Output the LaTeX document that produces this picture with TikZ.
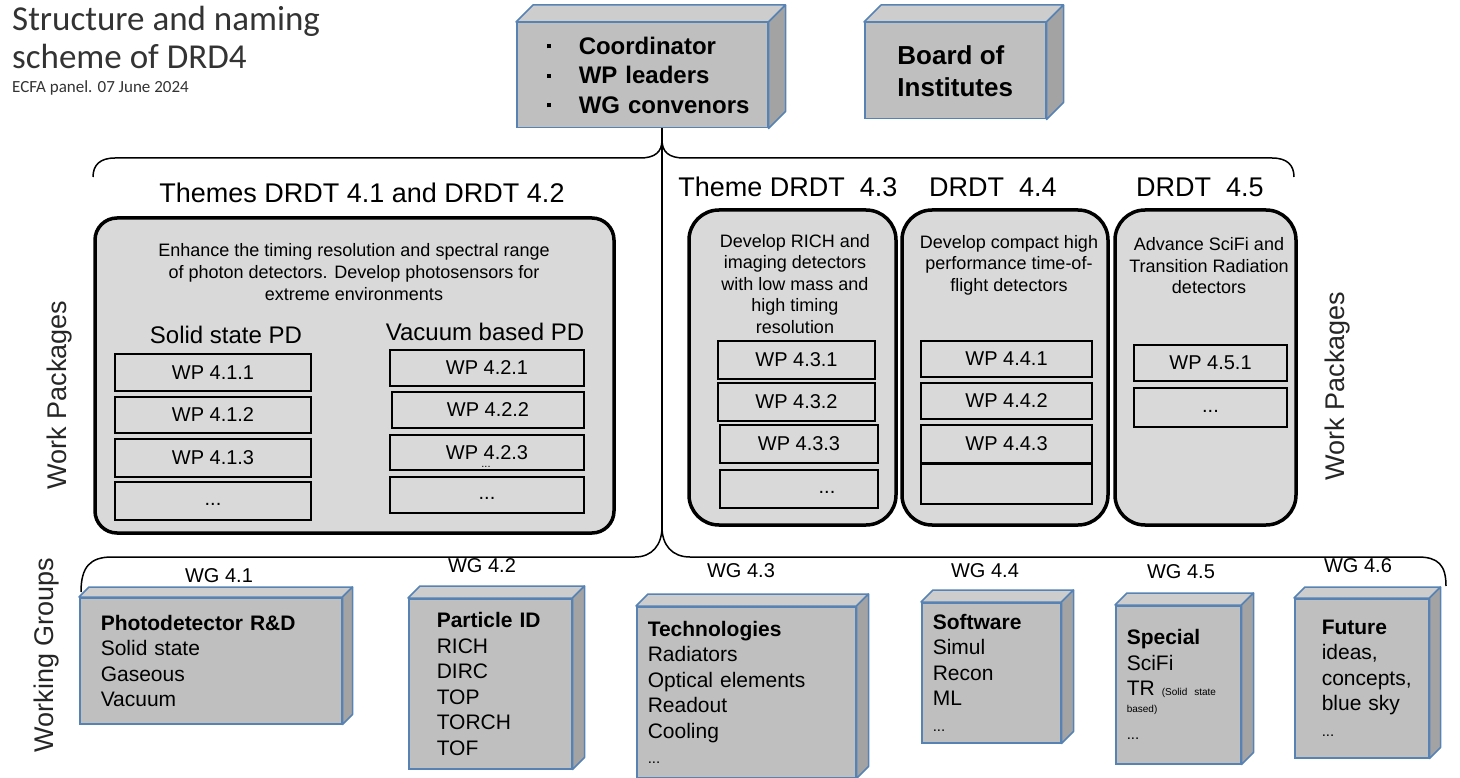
\documentclass[tikz,border=0pt]{standalone}
\usepackage{fontspec}
\setmainfont{Liberation Sans}
\newfontfamily\calfont{Carlito}
\usepackage{tikz}
\newcommand{\fsz}[2]{\fontsize{#1}{#2}\selectfont}
\newcommand{\sqbullet}{\rule[6pt]{4pt}{4pt}}
\definecolor{cubegray}{HTML}{BFBFBF}
\definecolor{cubetopc}{HTML}{CDCDCD}
\definecolor{cubesidec}{HTML}{A3A3A3}
\definecolor{cubeedge}{HTML}{5682B4}
\definecolor{themegray}{HTML}{D9D9D9}
\definecolor{titlegray}{HTML}{333333}
\tikzset{
  cubefront/.style={draw=cubeedge, fill=cubegray, line width=1.5pt, anchor=north west, align=left},
  cubetop/.style={draw=cubeedge, fill=cubetopc, line width=1.5pt, line join=round},
  cubeside/.style={draw=cubeedge, fill=cubesidec, line width=1.5pt, line join=round},
  themebox/.style={draw, fill=themegray, line width=3.5pt},
  wpbox/.style={draw, fill=themegray, line width=2pt, anchor=north west, inner sep=0pt, font=\fsz{20}{24}},
  brace/.style={line width=1.5pt},
  trunk/.style={line width=2.5pt},
  heading/.style={font=\fsz{27}{32}, anchor=base},
  subheading/.style={font=\fsz{24}{28}, anchor=base},
  sidelabel/.style={font=\fsz{27}{32}, rotate=90, text=black!85},
  wglabel/.style={font=\fsz{20}{24}, anchor=base},
  wgtext/.style={font=\fsz{21}{25.5}},
  themetext/.style={font=\fsz{18}{21.5}, align=center},
}
% top and side faces of a 3D box drawn on a node
\newcommand{\cubesides}[2]{%
  \filldraw[cubetop] (#1.north west) -- ++(#2,-#2) -- ([shift={(#2,-#2)}]#1.north east) -- (#1.north east) -- cycle;
  \filldraw[cubeside] (#1.north east) -- ++(#2,-#2) -- ([shift={(#2,-#2)}]#1.south east) -- (#1.south east) -- cycle;
}

\begin{document}
\begin{tikzpicture}[x=1pt,y=-1pt]
  \useasboundingbox (0,0) rectangle (1460,778);

  % title
  \node[anchor=north west, inner sep=0pt, align=left, font=\calfont\fsz{35}{38}, text=titlegray] (title) at (12,6) {Structure and naming\\scheme of DRD4};
  \node[anchor=base west, inner sep=0pt, font=\calfont\fsz{17}{20}, text=titlegray] (panel) at (12,93) {ECFA panel. 07 June 2024};

  % management
  \node[cubefront, text width=191pt, inner xsep=30pt, minimum height=105pt, font=\bfseries\fsz{24}{29.5}] (coord) at (516,22)
    {\mbox{\sqbullet\hspace{28pt}Coordinator}\\\mbox{\sqbullet\hspace{28pt}WP leaders}\\\mbox{\sqbullet\hspace{28pt}WG convenors}};
  \cubesides{coord}{17}
  \node[cubefront, minimum width=181pt, minimum height=96pt, font=\bfseries\fsz{26}{32}] (boi) at (864,22) {Board of\\Institutes};
  \cubesides{boi}{17}

  % braces
  \coordinate (toptip) at (662,140);
  \coordinate (topl) at (93,177);
  \coordinate (topr) at (1294,177);
  \coordinate (bottip) at (662,527);
  \coordinate (botl) at (81,592);
  \coordinate (botr) at (1446,586);
  \draw[brace] (topl) .. controls (93,165) and (100,158) .. (115,158) -- (640,158)
    .. controls (655,158) and (662,152) .. (toptip)
    .. controls (662,152) and (669,158) .. (684,158) -- (1272,158)
    .. controls (1287,158) and (1294,165) .. (topr);
  \draw[brace] (botl) .. controls (81,567) and (90,557) .. (112,557) -- (635,557)
    .. controls (652,557) and (662,545) .. (bottip)
    .. controls (662,545) and (672,557) .. (690,557) -- (1418,557)
    .. controls (1438,557) and (1446,565) .. (botr);
  \draw[trunk] (coord.south -| toptip) -- (bottip);

  % themes
  \node[heading] (th12) at (362,203) {Themes DRDT 4.1 and DRDT 4.2};
  \node[heading] (th3) at (788,197) {Theme DRDT\ \ 4.3};
  \node[heading] (th4) at (993,197) {DRDT\ \ 4.4};
  \node[heading] (th5) at (1200,197) {DRDT\ \ 4.5};

  \draw[themebox, rounded corners=22pt] (95,218) rectangle (614,533);
  \draw[themebox, rounded corners=30pt] (689,210) rectangle (896,525);
  \draw[themebox, rounded corners=30pt] (902,210) rectangle (1108,525);
  \draw[themebox, rounded corners=30pt] (1115,210) rectangle (1296,525);

  \node[themetext, font=\fsz{18}{22}] (desc12) at (354,272) {Enhance the timing resolution and spectral range\\of photon detectors. Develop photosensors for\\extreme environments};
  \node[themetext] (desc3) at (795,284) {Develop RICH and\\imaging detectors\\with low mass and\\high timing\\resolution};
  \node[themetext] (desc4) at (1009,265) {Develop compact high\\performance time-of-\\flight detectors};
  \node[themetext] (desc5) at (1209,266) {Advance SciFi and\\Transition Radiation\\detectors};

  \node[subheading] (solid) at (226,343) {Solid state PD};
  \node[subheading] (vacuum) at (485,340) {Vacuum based PD};

  % work packages
  \node[wpbox, minimum width=196pt, minimum height=37pt] (wp411) at (114,353) {WP 4.1.1};
  \node[wpbox, minimum width=196pt, minimum height=36pt] (wp412) at (114,396) {WP 4.1.2};
  \node[wpbox, minimum width=196pt, minimum height=38pt] (wp413) at (114,438) {WP 4.1.3};
  \node[wpbox, minimum width=196pt, minimum height=38pt] (wp41x) at (114,481) {\strut...};
  \node[wpbox, minimum width=194pt, minimum height=36pt] (wp421) at (389,349) {WP 4.2.1};
  \node[wpbox, minimum width=192pt, minimum height=36pt] (wp422) at (391,391) {WP 4.2.2};
  \node[wpbox, minimum width=194pt, minimum height=35pt] (wp423) at (389,434) {WP 4.2.3};
  \node[wpbox, minimum width=194pt, minimum height=36pt] (wp42x) at (389,476) {\strut...};
  \node[font=\fsz{11}{13}, inner sep=0pt] (stray) at (486,467) {...};

  \node[wpbox, minimum width=157pt, minimum height=38pt] (wp431) at (717,340) {WP 4.3.1};
  \node[wpbox, minimum width=157pt, minimum height=38pt] (wp432) at (717,382) {WP 4.3.2};
  \node[wpbox, minimum width=158pt, minimum height=38pt] (wp433) at (719,424) {WP 4.3.3};
  \node[wpbox, minimum width=158pt, minimum height=38pt] (wp43x) at (719,469) {\hspace{56pt}\strut...};
  \node[wpbox, minimum width=171pt, minimum height=36pt] (wp441) at (920,340) {WP 4.4.1};
  \node[wpbox, minimum width=171pt, minimum height=36pt] (wp442) at (920,382) {WP 4.4.2};
  \node[wpbox, minimum width=171pt, minimum height=38pt] (wp443) at (920,424) {WP 4.4.3};
  \node[wpbox, minimum width=171pt, minimum height=40pt] (wp44x) at (920,463) {};
  \node[wpbox, minimum width=153pt, minimum height=36pt] (wp451) at (1133,344) {WP 4.5.1};
  \node[wpbox, minimum width=153pt, minimum height=39pt] (wp45x) at (1133,387) {\strut...};

  \node[sidelabel] (wpl) at (60,395) {Work Packages};
  \node[sidelabel] (wpr) at (1338,386) {Work Packages};
  \node[sidelabel] (wgs) at (47,655) {Working Groups};

  % working groups
  \node[wglabel] (wgl1) at (219,582) {WG 4.1};
  \node[wglabel] (wgl2) at (482,572) {WG 4.2};
  \node[wglabel] (wgl3) at (741,577) {WG 4.3};
  \node[wglabel] (wgl4) at (985,577) {WG 4.4};
  \node[wglabel] (wgl5) at (1181,578) {WG 4.5};
  \node[wglabel] (wgl6) at (1358,572) {WG 4.6};

  \node[cubefront, wgtext, minimum height=126pt, text width=220pt, inner xsep=21pt] (wg1) at (79,597)
    {\textbf{Photodetector R\&D}\\Solid state\\Gaseous\\Vacuum};
  \cubesides{wg1}{10}
  \node[cubefront, wgtext, minimum height=170pt, text width=107pt, inner xsep=28pt] (wg2) at (408,598)
    {\textbf{Particle ID}\\RICH\\DIRC\\TOP\\TORCH\\TOF};
  \cubesides{wg2}{12}
  \node[cubefront, wgtext, minimum height=171pt, text width=197pt, inner xsep=11pt] (wg3) at (636,606)
    {\textbf{Technologies}\\Radiators\\Optical elements\\Readout\\Cooling\\{\fsz{15}{18}...}};
  \cubesides{wg3}{12}
  \node[cubefront, wgtext, minimum height=140pt, text width=117pt, inner xsep=11pt] (wg4) at (921,602)
    {\textbf{Software}\\Simul\\Recon\\ML\\{\fsz{15}{18}...}};
  \cubesides{wg4}{12}
  \node[cubefront, wgtext, minimum height=158pt, text width=103pt, inner xsep=11pt] (wg5) at (1115,605)
    {\textbf{Special}\\SciFi\\TR {\fsz{10}{12}(Solid state}\\[-9pt]{\fsz{10}{12}based)}\\[2pt]{\fsz{15}{18}...}};
  \cubesides{wg5}{12}
  \node[cubefront, wgtext, minimum height=159pt, text width=80pt, inner xsep=27pt] (wg6) at (1294,598)
    {\textbf{Future}\\ideas,\\concepts,\\blue sky\\{\fsz{15}{18}...}};
  \cubesides{wg6}{11}
\end{tikzpicture}
\end{document}
